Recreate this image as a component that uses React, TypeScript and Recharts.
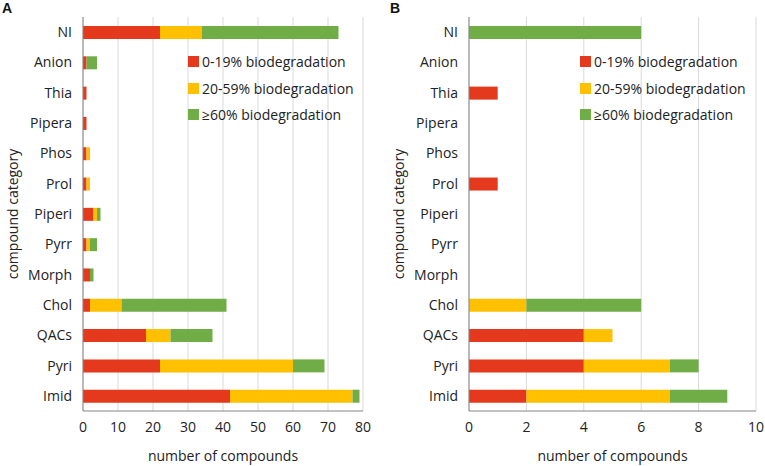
import React from "react";
import { BarChart, Bar, XAxis, YAxis, CartesianGrid, Legend, Label } from "recharts";

const categories = ["NI", "Anion", "Thia", "Pipera", "Phos", "Prol", "Piperi", "Pyrr", "Morph", "Chol", "QACs", "Pyri", "Imid"];

// panel A
const lowA = [22, 1, 1, 1, 1, 1, 3, 1, 2, 2, 18, 22, 42];
const midA = [12, 0, 0, 0, 1, 1, 1, 1, 0, 9, 7, 38, 35];
const highA = [39, 3, 0, 0, 0, 0, 1, 2, 1, 30, 12, 9, 2];
const ticksA = [0, 10, 20, 30, 40, 50, 60, 70, 80];

// panel B
const lowB = [0, 0, 1, 0, 0, 1, 0, 0, 0, 0, 4, 4, 2];
const midB = [0, 0, 0, 0, 0, 0, 0, 0, 0, 2, 1, 3, 5];
const highB = [6, 0, 0, 0, 0, 0, 0, 0, 0, 4, 0, 1, 2];
const ticksB = [0, 2, 4, 6, 8, 10];

const seriesNames = ["0-19% biodegradation", "20-59% biodegradation", "≥60% biodegradation"];
const colors = ["#E5391D", "#FFC000", "#70AD47"];

const FONT = "'Open Sans', sans-serif";
const TEXT = "#222";

const buildRows = (low: number[], mid: number[], high: number[]) =>
  categories.map((name, i) => ({ name, low: low[i], mid: mid[i], high: high[i] }));

const LegendBox = () => (
  <div style={{ fontFamily: FONT, fontSize: 14, color: TEXT }}>
    {seriesNames.map((s, i) => (
      <div key={s} style={{ height: 26.7, display: "flex", alignItems: "center" }}>
        <span style={{ width: 11, height: 11, background: colors[i], display: "inline-block", marginRight: 3 }} />
        <span>{s}</span>
      </div>
    ))}
  </div>
);

// plain tick so the last label is never dropped
const XTick = (props: any) => {
  const { x, y, payload } = props;
  return (
    <text x={x} y={y + 21} textAnchor="middle" fill={TEXT} fontSize={14} fontFamily={FONT}>
      {payload.value}
    </text>
  );
};

type PanelProps = {
  rows: { name: string; low: number; mid: number; high: number }[];
  ticks: number[];
  width: number;
  yWidth: number;
  right: number;
  yLabelOffset: number;
  legendLeft: number;
};

const Panel: React.FC<PanelProps> = ({ rows, ticks, width, yWidth, right, yLabelOffset, legendLeft }) => (
  <BarChart
    width={width}
    height={466}
    data={rows}
    layout="vertical"
    margin={{ top: 17, right, bottom: 0, left: 0 }}
    barSize={13}
    style={{ overflow: "visible" }}
  >
    <CartesianGrid horizontal={false} stroke="#d9d9d9" />
    <XAxis
      type="number"
      domain={[ticks[0], ticks[ticks.length - 1]]}
      ticks={ticks}
      interval={0}
      height={55}
      tickSize={0}
      tickMargin={0}
      axisLine={{ stroke: "#868686" }}
      tick={<XTick />}
    >
      <Label
        value="number of compounds"
        position="insideBottom"
        offset={5}
        style={{ fill: TEXT, fontSize: 14, fontFamily: FONT }}
      />
    </XAxis>
    <YAxis
      type="category"
      dataKey="name"
      width={yWidth}
      interval={0}
      tickSize={0}
      tickMargin={11}
      axisLine={{ stroke: "#868686" }}
      tick={{ fill: TEXT, fontSize: 14, fontFamily: FONT }}
    >
      <Label
        value="compound category"
        angle={-90}
        position="insideLeft"
        offset={yLabelOffset}
        textAnchor="middle"
        style={{ fill: TEXT, fontSize: 14, fontFamily: FONT }}
      />
    </YAxis>
    <Legend
      layout="vertical"
      align="center"
      verticalAlign="middle"
      content={() => <LegendBox />}
      wrapperStyle={{ left: legendLeft, top: 48, width: 180 }}
    />
    <Bar dataKey="low" name={seriesNames[0]} stackId="s" fill={colors[0]} isAnimationActive={false} />
    <Bar dataKey="mid" name={seriesNames[1]} stackId="s" fill={colors[1]} isAnimationActive={false} />
    <Bar dataKey="high" name={seriesNames[2]} stackId="s" fill={colors[2]} isAnimationActive={false} />
  </BarChart>
);

const letterStyle: React.CSSProperties = {
  position: "absolute",
  top: 0,
  fontFamily: "'Liberation Sans', Arial, sans-serif",
  fontWeight: "bold",
  fontSize: 14,
  lineHeight: "16px",
  color: "#111",
};

export default function App() {
  return (
    <div style={{ position: "absolute", left: 0, top: 0, width: 765, height: 466, background: "#fff" }}>
      <div style={{ position: "absolute", left: 0, top: 0 }}>
        <Panel rows={buildRows(lowA, midA, highA)} ticks={ticksA} width={380} yWidth={83} right={17} yLabelOffset={13} legendLeft={188} />
      </div>
      <div style={{ position: "absolute", left: 380, top: 0 }}>
        <Panel rows={buildRows(lowB, midB, highB)} ticks={ticksB} width={385} yWidth={89} right={9} yLabelOffset={19} legendLeft={200} />
      </div>
      <div style={{ ...letterStyle, left: 2 }}>A</div>
      <div style={{ ...letterStyle, left: 390 }}>B</div>
    </div>
  );
}
